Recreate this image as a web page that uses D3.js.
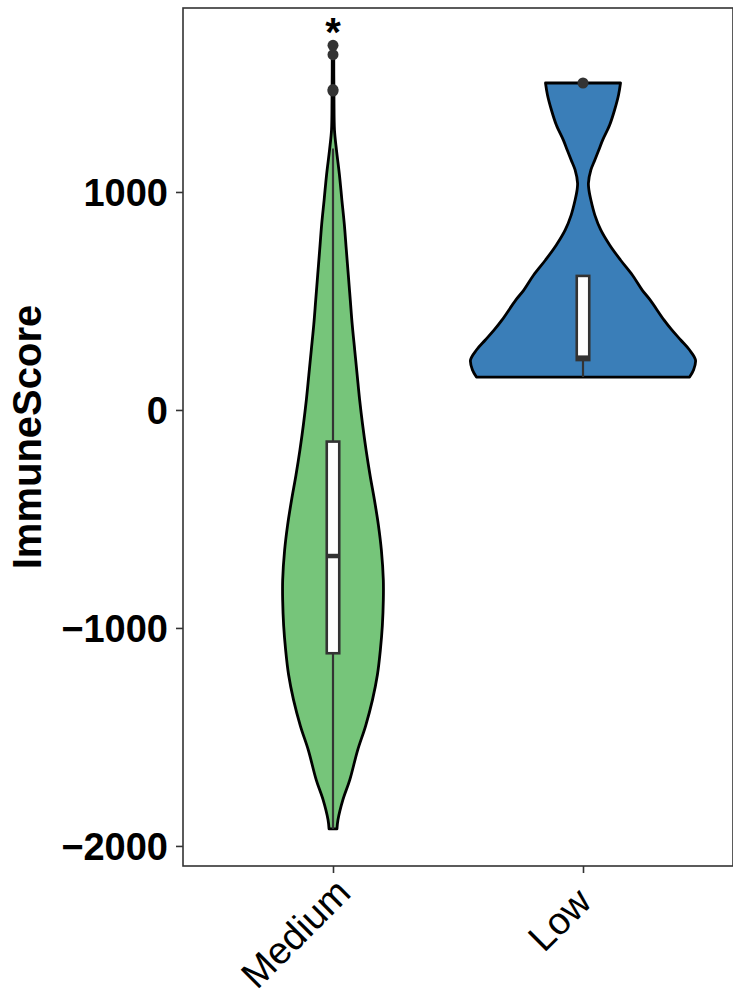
<!DOCTYPE html>
<html>
<head>
<meta charset="utf-8">
<script src="https://cdn.jsdelivr.net/npm/d3@7"></script>
<style>
  html, body { margin: 0; padding: 0; background: #fff; }
  svg { display: block; }
</style>
</head>
<body>
<svg id="chart" width="733" height="998"></svg>
<script>
// ---------------- data ----------------
const categories = ["Medium", "Low"];
const fillColors = ["#76C57A", "#3A7EB8"];
const yTicks = [-2000, -1000, 0, 1000];
const yLabel = "ImmuneScore";
const sigLabel = "*";

// violin density profiles: score and relative density (half width)
const mediumViolinScore   = [-1922, -1881, -1789, -1697, -1560, -1450, -1330, -1215, -1101, -990, -872, -780, -642, -528, -413, -298, -183, -68, 46, 160, 275, 390, 505, 620, 734, 850, 963, 1080, 1193, 1284, 1422, 1550, 1674];
const mediumViolinDensity = [4, 5, 10, 17, 25, 33, 40, 45, 48, 50, 51, 51, 49, 46, 42, 37.5, 33.5, 30, 27, 24.5, 22, 19.5, 17.5, 15.5, 13.5, 11.5, 9, 6.5, 3.5, 1.5, 1, 0.8, 0.8];
const lowViolinScore   = [151, 183, 229, 275, 321, 367, 413, 505, 550, 619, 688, 757, 826, 894, 963, 1009, 1041, 1101, 1147, 1193, 1239, 1307, 1376, 1445, 1500];
const lowViolinDensity = [108, 112, 114, 108, 99, 90, 82, 68, 60, 50, 38, 27, 18, 12, 8, 6, 5.5, 8, 12, 16, 20, 27, 32, 36, 38];

// box statistics: [lower whisker, Q1, median, Q3, upper whisker]
const mediumBox = [-1922, -1116, -670, -145, 1200];
const lowBox    = [151, 229, 240, 615, 615];
const mediumOutliers = [1463, 1470, 1630, 1673];
const lowOutliers    = [1500];

// ---------------- layout ----------------
const svg = d3.select("#chart");
const panel = { left: 183, top: 8, right: 733, bottom: 866 };

const x = d3.scalePoint().domain(categories).range([panel.left, panel.right]).padding(0.6);
const y = d3.scaleLinear().domain([-2092, 1844]).range([panel.bottom, panel.top]);
const step = x.step();
const maxDensity = d3.max(lowViolinDensity.concat(mediumViolinDensity));
const w = d3.scaleLinear().domain([0, maxDensity]).range([0, 0.45 * step]);

const groups = [
  { name: "Medium", score: mediumViolinScore, dens: mediumViolinDensity, box: mediumBox, out: mediumOutliers, fill: fillColors[0] },
  { name: "Low", score: lowViolinScore, dens: lowViolinDensity, box: lowBox, out: lowOutliers, fill: fillColors[1] }
];

// violins
groups.forEach(g => {
  const cx = x(g.name);
  const pts = g.score.map((s, i) => [s, g.dens[i]]);
  const area = d3.area()
    .y(d => y(d[0]))
    .x0(d => cx - w(d[1]))
    .x1(d => cx + w(d[1]))
    .curve(d3.curveCatmullRom.alpha(0.5));
  svg.append("path")
    .attr("d", area(pts))
    .attr("fill", g.fill)
    .attr("stroke", "#000")
    .attr("stroke-width", 2.8)
    .attr("stroke-linejoin", "round");
});

// boxplots
const boxW = 0.05 * step;
groups.forEach(g => {
  const cx = x(g.name);
  const [lo, q1, med, q3, hi] = g.box;
  const gg = svg.append("g");
  gg.append("line").attr("x1", cx).attr("x2", cx).attr("y1", y(lo)).attr("y2", y(q1))
    .attr("stroke", "#333").attr("stroke-width", 2.2);
  gg.append("line").attr("x1", cx).attr("x2", cx).attr("y1", y(q3)).attr("y2", y(hi))
    .attr("stroke", "#333").attr("stroke-width", 2.2);
  gg.append("rect").attr("x", cx - boxW / 2).attr("width", boxW)
    .attr("y", y(q3)).attr("height", y(q1) - y(q3))
    .attr("fill", "#fff").attr("stroke", "#333").attr("stroke-width", 2.6);
  gg.append("line").attr("x1", cx - boxW / 2).attr("x2", cx + boxW / 2)
    .attr("y1", y(med)).attr("y2", y(med))
    .attr("stroke", "#333").attr("stroke-width", 4.5);
  gg.selectAll("circle").data(g.out).enter().append("circle")
    .attr("cx", cx).attr("cy", d => y(d)).attr("r", 5.5).attr("fill", "#333");
});

// significance label
svg.append("text")
  .attr("x", x("Medium")).attr("y", 46)
  .attr("text-anchor", "middle")
  .attr("font-family", "Liberation Sans, Arial, sans-serif")
  .attr("font-weight", "bold")
  .attr("font-size", 40)
  .attr("fill", "#000")
  .text(sigLabel);

// panel border
svg.append("rect")
  .attr("x", panel.left).attr("y", panel.top)
  .attr("width", panel.right - panel.left).attr("height", panel.bottom - panel.top)
  .attr("fill", "none").attr("stroke", "#333").attr("stroke-width", 1.6);

// y axis
const yAxis = d3.axisLeft(y).tickValues(yTicks).tickSize(7).tickPadding(8)
  .tickFormat(d => d < 0 ? "\u2212" + Math.abs(d) : String(d));
const ya = svg.append("g").attr("transform", `translate(${panel.left},0)`).call(yAxis);
ya.select(".domain").remove();
ya.selectAll(".tick line").attr("stroke", "#333").attr("stroke-width", 1.6);
ya.selectAll(".tick text")
  .attr("font-family", "Liberation Sans, Arial, sans-serif")
  .attr("font-weight", "bold").attr("font-size", 38).attr("fill", "#000")
  .attr("dy", "0.36em");

// x axis
const xAxis = d3.axisBottom(x).tickSize(7).tickPadding(6);
const xa = svg.append("g").attr("transform", `translate(0,${panel.bottom})`).call(xAxis);
xa.select(".domain").remove();
xa.selectAll(".tick line").attr("stroke", "#333").attr("stroke-width", 1.6);
xa.selectAll(".tick text")
  .attr("font-family", "Liberation Sans, Arial, sans-serif")
  .attr("font-size", 38).attr("fill", "#000")
  .attr("text-anchor", "start")
  .each(function () {
    const L = this.getComputedTextLength();
    d3.select(this)
      .attr("x", -0.8 * L).attr("y", 0).attr("dy", 0)
      .attr("transform", "translate(0,48) rotate(-45)");
  });

// y label
svg.append("text")
  .attr("transform", `translate(41,${(panel.top + panel.bottom) / 2}) rotate(-90)`)
  .attr("text-anchor", "middle")
  .attr("font-family", "Liberation Sans, Arial, sans-serif")
  .attr("font-weight", "bold").attr("font-size", 40).attr("fill", "#000")
  .text(yLabel);
</script>
</body>
</html>
